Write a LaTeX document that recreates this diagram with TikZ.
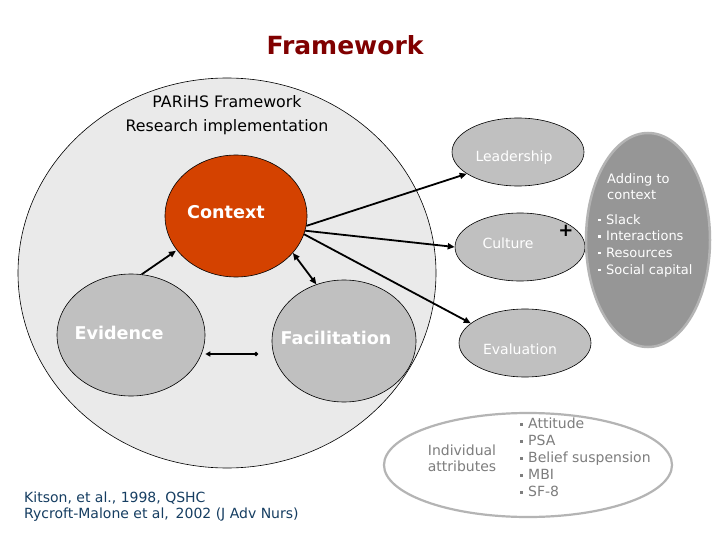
\documentclass[tikz,border=0pt]{standalone}
\usepackage{fontspec}
\setmainfont{DejaVu Sans}
\usetikzlibrary{shapes.geometric,arrows.meta}
\definecolor{titlered}{RGB}{128,0,0}
\definecolor{biggray}{RGB}{234,234,234}
\definecolor{ctxorange}{RGB}{212,66,0}
\definecolor{nodegray}{RGB}{192,192,192}
\definecolor{darkgray}{RGB}{150,150,150}
\definecolor{rimgray}{RGB}{180,180,180}
\definecolor{txtgray}{RGB}{125,125,125}
\definecolor{refblue}{RGB}{22,62,98}
\newcommand\sqb{\makebox[8pt][l]{\rule[3pt]{2.4pt}{2.4pt}}}
\tikzset{
  ov/.style={ellipse, draw=black, line width=0.6pt, inner sep=0pt},
  gnode/.style={ov, fill=nodegray},
  lbl/.style={inner sep=0pt, font=\fontsize{14}{16}\selectfont},
  blbl/.style={inner sep=0pt, text=white, font=\bfseries\fontsize{17.6}{20}\selectfont},
  wlbl/.style={lbl, text=white},
  arr/.style={line width=1.8pt, -{Triangle[length=7pt,width=6pt]}},
  darr/.style={line width=1.8pt, {Triangle[length=7pt,width=6pt]}-{Triangle[length=7pt,width=6pt]}},
  dotline/.style={line width=1.8pt, {Triangle[length=5pt,width=5pt]}-{Circle[length=4pt]}}
}
\begin{document}
\begin{tikzpicture}[x=1pt,y=-1pt]
\useasboundingbox (0,0) rectangle (720,540);
\fill[white] (0,0) rectangle (720,540);

\node[inner sep=0pt, text=titlered, font=\bfseries\fontsize{25}{28}\selectfont] (title) at (345,45) {Framework};

\node[ov, fill=biggray, minimum width=418pt, minimum height=390pt] (big) at (227,273) {};
\node[lbl, font=\fontsize{15.8}{24}\selectfont, align=center] (parihs) at (227,115) {PARiHS Framework\\Research implementation};

\node[ov, fill=ctxorange, minimum width=142pt, minimum height=122pt] (ctx) at (236,216) {};
\node[blbl] (ctxl) at (226,212) {Context};

\node[gnode, minimum width=148pt, minimum height=122pt] (ev) at (131,335) {};
\node[blbl] (evl) at (119,333) {Evidence};

\node[gnode, minimum width=144pt, minimum height=122pt] (fa) at (344,341) {};
\node[blbl] (fal) at (336,338) {Facilitation};

\node[gnode, minimum width=132pt, minimum height=68pt] (lead) at (518,152) {};
\node[wlbl] (leadl) at (514,158) {Leadership};

\node[gnode, minimum width=130pt, minimum height=68pt] (cul) at (520,247) {};
\node[wlbl] (cull) at (508,243) {Culture};

\node[gnode, minimum width=132pt, minimum height=68pt] (eval) at (525,343) {};
\node[wlbl] (evall) at (520,349) {Evaluation};

\node[ellipse, inner sep=0pt, fill=darkgray, draw=rimgray, line width=2.5pt, minimum width=124pt, minimum height=214pt] (add) at (648,240) {};
\node[wlbl, font=\fontsize{13}{16}\selectfont, align=left, anchor=north west] (addl) at (607,173) {Adding to\\context};
\node[wlbl, font=\fontsize{13}{16.7}\selectfont, align=left, anchor=north west] (addlist) at (598,214) {\sqb Slack\\\sqb Interactions\\\sqb Resources\\\sqb Social capital};

\node[inner sep=0pt, font=\bfseries\fontsize{18}{18}\selectfont] (plus) at (566,231) {+};

\node[ellipse, inner sep=0pt, fill=white, draw=rimgray, line width=2.2pt, minimum width=288pt, minimum height=104pt] (ind) at (528,465) {};
\node[lbl, text=txtgray, align=center] (indl) at (462,458) {Individual\\attributes};
\node[lbl, text=txtgray, font=\fontsize{14}{17}\selectfont, align=left, anchor=north west] (indlist) at (520,418) {\sqb Attitude\\\sqb PSA\\\sqb Belief suspension\\\sqb MBI\\\sqb SF-8};

\node[lbl, text=refblue, align=left, anchor=west] (ref) at (24,507) {Kitson, et al., 1998, QSHC\\Rycroft-Malone et al,\, 2002 (J Adv Nurs)};

\coordinate (efend) at (258,354);
\draw[arr, shorten >=1pt] (ev.80) -- (ctx.210);
\draw[darr] (ctx.-33) -- (fa.116);
\draw[dotline] (ev.east |- efend) -- (efend);
\draw[arr] (ctx.-8) -- (lead.203);
\draw[arr] (ctx.-12) -- (cul.180);
\draw[arr] (ctx.-15) -- (eval.160);
\end{tikzpicture}
\end{document}
